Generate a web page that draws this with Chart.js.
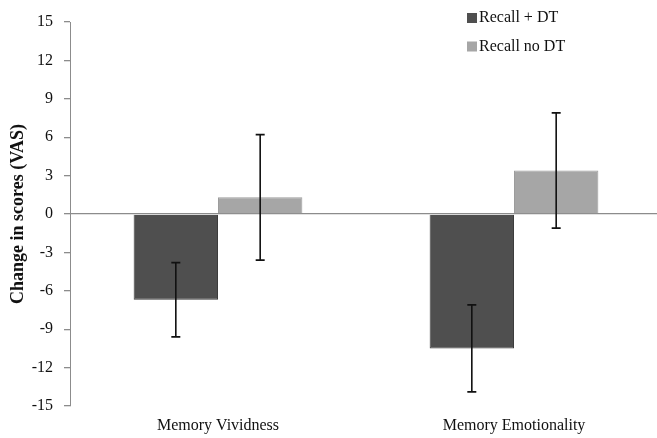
<!DOCTYPE html>
<html>
<head>
  <title>Change in scores (VAS)</title>
  <script src="https://cdn.jsdelivr.net/npm/chart.js"></script>
  <style>
    body {
      margin: 0;
      background-color: #fff;
      overflow: hidden;
    }
    .chart-box {
      width: 662px;
      height: 438px;
    }
  </style>
</head>
<body>
  <div class="chart-box">
    <canvas id="vasChart"></canvas>
  </div>

  <script>
    const categories = ['Memory Vividness', 'Memory Emotionality'];
    const seriesNames = ['Recall + DT', 'Recall no DT'];
    const recallDT = [-6.7, -10.5];
    const recallDTErr = [2.9, 3.4];
    const recallNoDT = [1.3, 3.4];
    const recallNoDTErr = [4.9, 4.5];
    const yTicks = [-15, -12, -9, -6, -3, 0, 3, 6, 9, 12, 15];

    const serif = "'Liberation Serif', 'Times New Roman', serif";

    // draws the black error bars on top of each bar
    const errorBars = {
      id: 'errorBars',
      afterDatasetsDraw(chart) {
        const ctx = chart.ctx;
        const y = chart.scales.y;
        chart.data.datasets.forEach((ds, i) => {
          const meta = chart.getDatasetMeta(i);
          meta.data.forEach((bar, j) => {
            const v = ds.data[j];
            const e = ds.errors[j];
            const top = y.getPixelForValue(v + e);
            const bot = y.getPixelForValue(v - e);
            ctx.save();
            ctx.strokeStyle = '#111';
            ctx.lineWidth = 1.6;
            ctx.beginPath();
            ctx.moveTo(bar.x, top);
            ctx.lineTo(bar.x, bot);
            ctx.moveTo(bar.x - 4.5, top);
            ctx.lineTo(bar.x + 4.5, top);
            ctx.moveTo(bar.x - 4.5, bot);
            ctx.lineTo(bar.x + 4.5, bot);
            ctx.stroke();
            ctx.restore();
          });
        });
      }
    };

    // legend in the top right corner, stacked
    const cornerLegend = {
      id: 'cornerLegend',
      afterDraw(chart) {
        const ctx = chart.ctx;
        ctx.save();
        ctx.font = '16px ' + serif;
        ctx.textBaseline = 'middle';
        chart.data.datasets.forEach((ds, i) => {
          const cy = 18 + i * 28.5;
          ctx.fillStyle = ds.backgroundColor;
          ctx.fillRect(467, cy - 5, 10, 10);
          ctx.fillStyle = '#111';
          ctx.fillText(ds.label, 479, cy);
        });
        ctx.restore();
      }
    };

    const ctx = document.getElementById('vasChart').getContext('2d');
    new Chart(ctx, {
      type: 'bar',
      data: {
        labels: categories,
        datasets: [{
          label: seriesNames[0],
          data: recallDT,
          errors: recallDTErr,
          backgroundColor: '#4f4f4f',
          borderColor: '#3c3c3c',
          borderWidth: 1
        }, {
          label: seriesNames[1],
          data: recallNoDT,
          errors: recallNoDTErr,
          backgroundColor: '#a6a6a6',
          borderColor: '#9c9c9c',
          borderWidth: 1
        }]
      },
      options: {
        responsive: true,
        maintainAspectRatio: false,
        animation: false,
        layout: { padding: { top: 22, right: 0, left: 0, bottom: 0 } },
        datasets: {
          bar: { barPercentage: 1, categoryPercentage: 0.57 }
        },
        plugins: {
          legend: { display: false },
          tooltip: { enabled: false }
        },
        scales: {
          x: {
            grid: { display: false },
            border: { display: false },
            ticks: {
              color: '#111',
              font: { family: serif, size: 16 },
              padding: 2
            },
            afterFit(scale) { scale.height = 32; }
          },
          y: {
            min: -15,
            max: 15,
            afterBuildTicks(scale) {
              scale.ticks = yTicks.map(v => ({ value: v }));
            },
            border: { display: true, color: '#8c8c8c', width: 1 },
            grid: {
              color: c => c.tick && c.tick.value === 0 ? '#8c8c8c' : 'rgba(0,0,0,0)',
              tickColor: '#8c8c8c',
              tickLength: 6,
              lineWidth: 1.3
            },
            ticks: {
              color: '#111',
              font: { family: serif, size: 16 },
              padding: 11
            },
            title: {
              display: true,
              text: 'Change in scores (VAS)',
              color: '#111',
              font: { family: serif, size: 18, weight: 'bold' },
              padding: { top: 8, bottom: 0 }
            },
            afterFit(scale) { scale.width = 70; }
          }
        }
      },
      plugins: [errorBars, cornerLegend]
    });
  </script>
</body>
</html>
